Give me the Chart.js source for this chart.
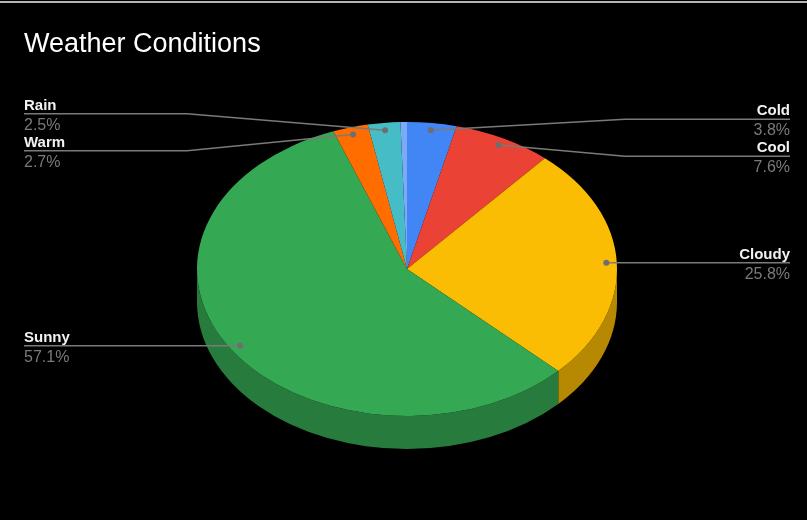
<!DOCTYPE html>
<html>
<head>
<meta charset="utf-8">
<script src="https://cdn.jsdelivr.net/npm/chart.js@4.4.1/dist/chart.umd.min.js"></script>
<style>
  html, body { margin: 0; padding: 0; background: #000; }
  #wrap { position: relative; width: 807px; height: 520px; background: #000; }
  #topline { position: absolute; left: 0; top: 1px; width: 807px; height: 2px; background: #b4b4b4; }
  canvas { position: absolute; left: 0; top: 0; }
</style>
</head>
<body>
<div id="wrap">
  <canvas id="pie" width="807" height="520"></canvas>
  <div id="topline"></div>
</div>
<script>
// chart data
const categories = ['Cold', 'Cool', 'Cloudy', 'Sunny', 'Warm', 'Rain', 'Other'];
const shares = [3.8, 7.6, 25.8, 57.1, 2.7, 2.5, 0.5];
const sliceColors = ['#4285f4', '#ea4335', '#fbbc04', '#34a853', '#ff6d01', '#46bdc6', '#7baaf7'];
const chartTitle = 'Weather Conditions';

// 3d look
const TILT = 0.7;     // vertical squash of the pie
const DEPTH = 33;     // side height in px
const SHADE = 0.73;

function darken(hex, f) {
    const n = parseInt(hex.slice(1), 16);
    const r = Math.round(((n >> 16) & 255) * f);
    const g = Math.round(((n >> 8) & 255) * f);
    const b = Math.round((n & 255) * f);
    return `rgb(${r},${g},${b})`;
}

const total = shares.reduce((a, b) => a + b, 0);

const tiltPlugin = {
    id: 'tilt',
    beforeDatasetsDraw(chart) {
        const ctx = chart.ctx;
        const arcs = chart.getDatasetMeta(0).data;
        // side walls, only the front half is visible
        arcs.forEach((arc, i) => {
            const p = arc.getProps(['x', 'y', 'startAngle', 'endAngle', 'outerRadius'], true);
            const a1 = Math.max(p.startAngle, 0);
            const a2 = Math.min(p.endAngle, Math.PI);
            if (a2 <= a1) return;
            const R = p.outerRadius, ry = R * TILT;
            ctx.beginPath();
            ctx.ellipse(p.x, p.y, R, ry, 0, a1, a2, false);
            ctx.lineTo(p.x + R * Math.cos(a2), p.y + DEPTH + ry * Math.sin(a2));
            ctx.ellipse(p.x, p.y + DEPTH, R, ry, 0, a2, a1, true);
            ctx.closePath();
            ctx.fillStyle = darken(sliceColors[i], SHADE);
            ctx.fill();
        });
        const cy = chart.chartArea.top + chart.chartArea.height / 2;
        ctx.save();
        ctx.translate(0, cy);
        ctx.scale(1, TILT);
        ctx.translate(0, -cy);
    },
    afterDatasetsDraw(chart) {
        chart.ctx.restore();
    },
    afterDraw(chart) {
        const ctx = chart.ctx;
        const arcs = chart.getDatasetMeta(0).data;

        ctx.save();
        ctx.fillStyle = '#ffffff';
        ctx.font = '27px "Liberation Sans", Arial, sans-serif';
        ctx.textBaseline = 'alphabetic';
        ctx.textAlign = 'left';
        ctx.fillText(chartTitle, 24, 52);

        const left = [], right = [];
        arcs.forEach((arc, i) => {
            if (shares[i] / total < 0.01) return;
            const p = arc.getProps(['x', 'y', 'startAngle', 'endAngle', 'outerRadius'], true);
            const m = (p.startAngle + p.endAngle) / 2;
            const r = p.outerRadius * 0.95;
            const item = {
                i: i,
                dx: p.x + r * Math.cos(m),
                dy: p.y + r * TILT * Math.sin(m),
                cx: p.x,
                R: p.outerRadius
            };
            item.y = item.dy;
            (Math.cos(m) >= 0 ? right : left).push(item);
        });

        function spread(items, gap) {
            items.sort((a, b) => a.dy - b.dy);
            let groups = items.map(it => ({ items: [it], mean: it.dy }));
            let merged = true;
            while (merged) {
                merged = false;
                for (let g = 0; g < groups.length - 1; g++) {
                    const A = groups[g], B = groups[g + 1];
                    const aBottom = A.mean + (A.items.length - 1) * gap / 2;
                    const bTop = B.mean - (B.items.length - 1) * gap / 2;
                    if (bTop - aBottom < gap) {
                        const all = A.items.concat(B.items);
                        groups.splice(g, 2, { items: all, mean: all.reduce((s, it) => s + it.dy, 0) / all.length });
                        merged = true;
                        break;
                    }
                }
            }
            groups.forEach(G => {
                const start = G.mean - (G.items.length - 1) * gap / 2;
                G.items.forEach((it, j) => { it.y = start + j * gap; });
            });
        }
        spread(right, 37);
        spread(left, 37);

        function drawLabel(it, isRight) {
            const bendX = isRight ? it.cx + it.R + 8 : it.cx - it.R - 10;
            const endX = isRight ? 790 : 24;
            ctx.strokeStyle = '#7a7a7a';
            ctx.lineWidth = 1.5;
            ctx.beginPath();
            ctx.moveTo(it.dx, it.dy);
            ctx.lineTo(bendX, it.y);
            ctx.lineTo(endX, it.y);
            ctx.stroke();
            ctx.fillStyle = '#6e6e6e';
            ctx.beginPath();
            ctx.arc(it.dx, it.dy, 3, 0, Math.PI * 2);
            ctx.fill();

            ctx.textAlign = isRight ? 'right' : 'left';
            ctx.fillStyle = '#f2f2f2';
            ctx.font = 'bold 15px "Liberation Sans", Arial, sans-serif';
            ctx.fillText(categories[it.i], endX, it.y - 4);
            ctx.fillStyle = '#7a7a7a';
            ctx.font = '16px "Liberation Sans", Arial, sans-serif';
            ctx.fillText((shares[it.i] / total * 100).toFixed(1) + '%', endX, it.y + 16);
        }
        right.forEach(it => drawLabel(it, true));
        left.forEach(it => drawLabel(it, false));
        ctx.restore();
    }
};

new Chart(document.getElementById('pie'), {
    type: 'pie',
    data: {
        labels: categories,
        datasets: [{
            data: shares,
            backgroundColor: sliceColors,
            borderWidth: 0,
            radius: 210
        }]
    },
    options: {
        responsive: false,
        animation: false,
        events: [],
        layout: { padding: { left: 197, right: 190, top: 59, bottom: 41 } },
        plugins: {
            legend: { display: false },
            tooltip: { enabled: false },
            title: { display: false }
        }
    },
    plugins: [tiltPlugin]
});
</script>
</body>
</html>
